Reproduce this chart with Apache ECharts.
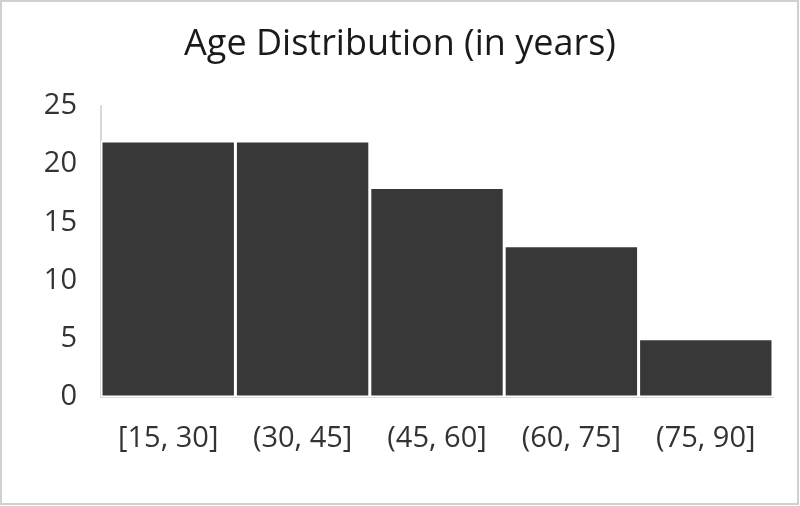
<!DOCTYPE html>
<html>
<head>
<meta charset="utf-8">
<script src="https://cdn.jsdelivr.net/npm/echarts@6/dist/echarts.min.js"></script>
<style>
  html, body { margin: 0; padding: 0; background: #fff; }
  #chart { width: 800px; height: 506px; }
</style>
</head>
<body>
<div id="chart"></div>
<script>
const categories = ['[15, 30]', '(30, 45]', '(45, 60]', '(60, 75]', '(75, 90]'];
const counts = [22, 22, 18, 13, 5];
const yTicks = [0, 5, 10, 15, 20, 25];

const chart = echarts.init(document.getElementById('chart'));
const option = {
  backgroundColor: '#fff',
  title: {
    text: 'Age Distribution (in years)',
    left: 'center',
    top: 22,
    textStyle: {
      fontFamily: 'Open Sans',
      fontSize: 36,
      fontWeight: 'normal',
      color: '#1a1a1a'
    }
  },
  graphic: [{
    type: 'rect',
    shape: { x: 1, y: 1, width: 797, height: 503 },
    style: { fill: 'none', stroke: '#d0d0d0', lineWidth: 2 }
  }],
  grid: { left: 101, right: 27, top: 106, bottom: 109 },
  xAxis: {
    type: 'category',
    data: categories,
    axisLine: { show: true, lineStyle: { color: '#d9d9d9', width: 2 } },
    axisTick: { show: false },
    axisLabel: {
      interval: 0,
      hideOverlap: false,
      margin: 27,
      fontFamily: 'Open Sans',
      fontSize: 29,
      color: '#333'
    }
  },
  yAxis: {
    type: 'value',
    min: yTicks[0],
    max: yTicks[yTicks.length - 1],
    interval: 5,
    axisLine: { show: true, lineStyle: { color: '#d9d9d9', width: 2 } },
    axisTick: { show: false },
    splitLine: { show: false },
    axisLabel: {
      margin: 24,
      fontFamily: 'Open Sans',
      fontSize: 29,
      color: '#333'
    }
  },
  series: [{
    type: 'bar',
    data: counts,
    barCategoryGap: '0%',
    itemStyle: { color: '#383838', borderColor: '#fff', borderWidth: 1.5 }
  }]
};
chart.setOption(option);
</script>
</body>
</html>
